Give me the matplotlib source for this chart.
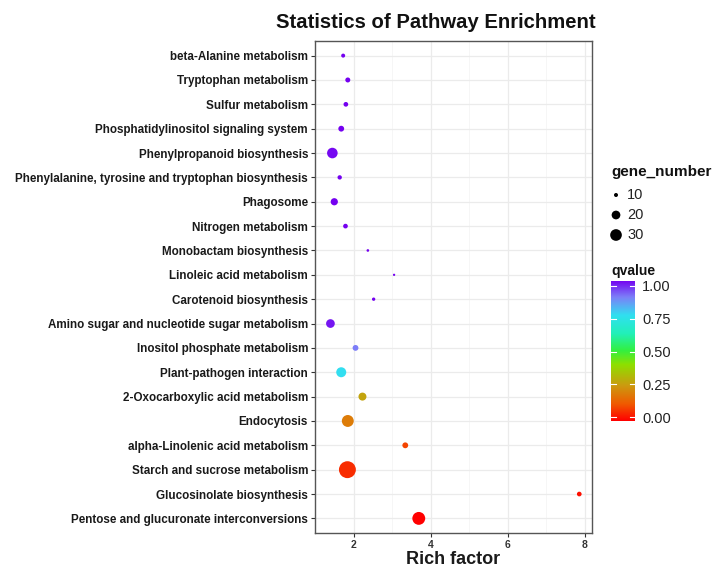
import matplotlib
matplotlib.use("Agg")
import matplotlib.pyplot as plt
import numpy as np
from matplotlib.colors import LinearSegmentedColormap, Normalize

plt.rcParams['font.family'] = ['Liberation Sans', 'DejaVu Sans']

pathways = [
    "beta-Alanine metabolism",
    "Tryptophan metabolism",
    "Sulfur metabolism",
    "Phosphatidylinositol signaling system",
    "Phenylpropanoid biosynthesis",
    "Phenylalanine, tyrosine and tryptophan biosynthesis",
    "Phagosome",
    "Nitrogen metabolism",
    "Monobactam biosynthesis",
    "Linoleic acid metabolism",
    "Carotenoid biosynthesis",
    "Amino sugar and nucleotide sugar metabolism",
    "Inositol phosphate metabolism",
    "Plant-pathogen interaction",
    "2-Oxocarboxylic acid metabolism",
    "Endocytosis",
    "alpha-Linolenic acid metabolism",
    "Starch and sucrose metabolism",
    "Glucosinolate biosynthesis",
    "Pentose and glucuronate interconversions",
]
rich_factor = [1.73, 1.85, 1.80, 1.68, 1.45, 1.64, 1.50, 1.79, 2.37, 3.05,
               2.52, 1.40, 2.05, 1.68, 2.23, 1.85, 3.34, 1.84, 7.85, 3.69]
gene_number = [10, 11.5, 11, 13, 26, 10.5, 16, 11, 8.5, 8.2,
               9.2, 20, 13, 24, 18, 31, 13, 55, 11, 35]
qvalue = [1.0, 1.0, 1.0, 1.0, 0.99, 1.0, 1.0, 1.0, 1.0, 1.0,
          1.0, 0.98, 0.88, 0.75, 0.27, 0.19, 0.09, 0.06, 0.02, 0.0]

size_breaks = [10, 20, 30]
q_ticks = [0.0, 0.25, 0.5, 0.75, 1.0]
q_ticklabels = ["0.00", "0.25", "0.50", "0.75", "1.00"]
x_ticks = [2, 4, 6, 8]

W, H = 718, 572
DPI = 100
fig = plt.figure(figsize=(W / DPI, H / DPI), dpi=DPI)

cmap = LinearSegmentedColormap.from_list("qv", [
    (0.0, "#FF0000"), (0.12, "#F05A00"), (0.25, "#CC9A10"), (0.40, "#8EE000"),
    (0.50, "#33F040"), (0.62, "#22F0B8"), (0.75, "#30E0F0"), (0.88, "#7C80F8"),
    (1.0, "#7400F0")])
norm = Normalize(0, 1)


def msize(n):
    d_px = np.sqrt(np.maximum(6.0 * np.asarray(n, float) - 44.0, 3.0))
    d_pt = d_px * 72.0 / DPI
    return d_pt ** 2


def fx(px):
    return px / W


def fy(py):
    return 1 - py / H


L, R, T, B = 315, 592, 41, 533
ax = fig.add_axes([fx(L), fy(B), fx(R) - fx(L), fy(T) - fy(B)])
n = len(pathways)
ypos = np.arange(n)[::-1]
ax.scatter(rich_factor, ypos, s=msize(gene_number), c=qvalue, cmap=cmap, norm=norm,
           linewidths=0, zorder=3)
ax.set_xlim(1.085, 8.18)
ax.set_ylim(-0.6, n - 1 + 0.6)
ax.set_yticks(ypos)
ax.set_yticklabels(pathways, fontsize=8.4, fontweight='bold', color='#1a1a1a')
ax.set_xticks(x_ticks)
ax.set_xticklabels([str(v) for v in x_ticks], fontsize=7.5, fontweight='bold', color='#333333')
ax.set_xticks([1, 3, 5, 7], minor=True)
ax.tick_params(axis='both', which='major', length=3, width=0.8, color='#333333', pad=2)
ax.tick_params(axis='x', which='minor', length=0)
ax.grid(True, which='major', color='#EBEBEB', linewidth=0.9, zorder=0)
ax.grid(True, which='minor', axis='x', color='#F5F5F5', linewidth=0.6, zorder=0)
ax.set_axisbelow(True)
for sp in ax.spines.values():
    sp.set_color('#555555')
    sp.set_linewidth(1.0)
ax.set_xlabel("Rich factor", fontsize=13, fontweight='bold', color='#1a1a1a', labelpad=1)

fig.text(fx(436), fy(22), "Statistics of Pathway Enrichment", fontsize=14.6,
         fontweight='bold', ha='center', va='center', color='#111111')

# size legend
fig.text(fx(611), fy(172), "gene_number", fontsize=11, fontweight='bold',
         ha='left', va='center', color='#111111')
lax = fig.add_axes([0, 0, 1, 1], facecolor='none')
lax.set_xlim(0, W)
lax.set_ylim(H, 0)
lax.axis('off')
leg_y = [195, 215, 235]
lax.scatter([616] * 3, leg_y, s=msize(size_breaks), c='black', linewidths=0)
for yy, b in zip(leg_y, size_breaks):
    lax.text(627, yy, str(b), fontsize=10.5, ha='left', va='center', color='#222222')

# colorbar legend
fig.text(fx(611), fy(275.5), "qvalue", fontsize=10, fontweight='bold',
         ha='left', va='baseline', color='#111111')
cax = fig.add_axes([fx(611), fy(421), fx(635) - fx(611), fy(281) - fy(421)])
grad = np.linspace(0, 1, 256).reshape(-1, 1)
cax.imshow(grad, cmap=cmap, norm=norm, aspect='auto', origin='lower',
           extent=[0, 1, -0.03, 1.038])
cax.set_xlim(0, 1)
cax.set_ylim(-0.03, 1.038)
cax.set_xticks([])
cax.yaxis.tick_right()
cax.set_yticks(q_ticks)
cax.set_yticklabels(q_ticklabels)
cax.tick_params(axis='y', length=0, labelsize=10.5, labelcolor='#222222', pad=5)
for sp in cax.spines.values():
    sp.set_visible(False)
for t in q_ticks:
    cax.plot([0, 0.2], [t, t], color='white', lw=0.8)
    cax.plot([0.8, 1.0], [t, t], color='white', lw=0.8)

fig.savefig("out.png", dpi=DPI)
